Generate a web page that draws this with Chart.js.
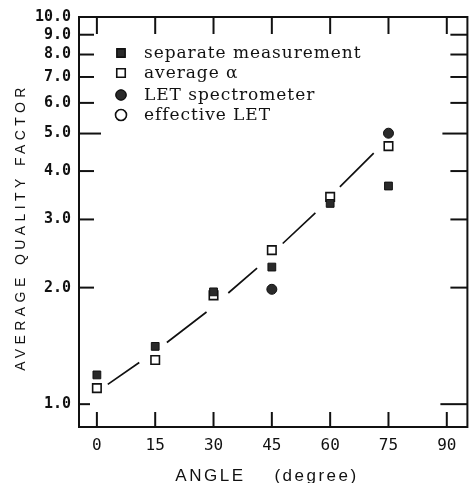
<!DOCTYPE html>
<html><head><meta charset="utf-8">
<script src="https://cdn.jsdelivr.net/npm/chart.js@4/dist/chart.umd.min.js"></script>
<style>html,body{margin:0;padding:0;background:#fff}#wrap{width:475px;height:483px;position:relative}</style>
</head><body><div id="wrap"><canvas id="c" width="475" height="483"></canvas></div>
<script>
// ---- data ----
const angles = [0, 15, 30, 45, 60, 75];
const separateMeasurement = [1.19, 1.41, 1.95, 2.26, 3.30, 3.66];
const averageAlpha = [1.10, 1.30, 1.91, 2.50, 3.43, 4.64];
const letAngles = [45, 75];
const letSpectrometer = [1.98, 5.01];
const effectiveAngles = [];
const effectiveLET = [];
// dashed guide curve (broken at each measured angle)
const fitAngles = [2.8, 10.9, 13, 18, 28.2, 31, 33.8, 41.2, 45, 47.8, 56.2, 60, 62.5, 71.2];
const fitValues = [1.125, 1.281, null, 1.443, 1.73, null, 1.937, 2.245, null, 2.60, 3.12, null, 3.64, 4.45];
const xTicks = [0, 15, 30, 45, 60, 75, 90];
const yTicks = [1, 2, 3, 4, 5, 6, 7, 8, 9, 10];
const seriesNames = ['separate measurement', 'average α', 'LET spectrometer', 'effective LET'];
const xTitle = 'ANGLE    (degree)';
const yTitle = 'AVERAGE QUALITY FACTOR';

const pts = (xs, ys) => xs.map((x, i) => ({x: x, y: ys[i]}));

const datasets = [
  {label: seriesNames[0], type: 'scatter', data: pts(angles, separateMeasurement),
   pointStyle: 'rect', pointRadius: 5.5, backgroundColor: '#2a2a2a', borderColor: '#111', borderWidth: 1},
  {label: seriesNames[1], type: 'scatter', data: pts(angles, averageAlpha),
   pointStyle: 'rect', pointRadius: 6, backgroundColor: '#fff', borderColor: '#111', borderWidth: 1.6},
  {label: seriesNames[2], type: 'scatter', data: pts(letAngles, letSpectrometer),
   pointStyle: 'circle', pointRadius: 5, backgroundColor: '#2a2a2a', borderColor: '#111', borderWidth: 1},
  {label: seriesNames[3], type: 'scatter', data: pts(effectiveAngles, effectiveLET),
   pointStyle: 'circle', pointRadius: 5.5, backgroundColor: '#fff', borderColor: '#111', borderWidth: 1.6},
  {label: 'curve', type: 'line', data: pts(fitAngles, fitValues), spanGaps: false,
   borderColor: '#111', borderWidth: 1.7, pointRadius: 0, fill: false, tension: 0}
];

const decor = {
  id: 'decor',
  afterDraw(chart) {
    const {ctx, chartArea: a, scales: {x, y}} = chart;
    ctx.save();
    ctx.strokeStyle = '#111';
    ctx.lineWidth = 2;
    const line = (x1, y1, x2, y2) => { ctx.beginPath(); ctx.moveTo(x1, y1); ctx.lineTo(x2, y2); ctx.stroke(); };
    ctx.strokeRect(a.left, a.top, a.right - a.left, a.bottom - a.top);
    x.ticks.forEach(t => {
      const px = x.getPixelForValue(t.value);
      line(px, a.bottom, px, a.bottom - 15);
      line(px, a.top, px, a.top + 17);
    });
    y.ticks.forEach(t => {
      const py = y.getPixelForValue(t.value);
      const long = t.value === 5;
      const lenL = long ? 22 : (t.value === 1 ? 11 : 15);
      const lenR = long ? 25 : (t.value === 1 ? 27 : 17);
      line(a.left, py, a.left + lenL, py);
      line(a.right, py, a.right - lenR, py);
    });
    // legend
    const lx = 121, ly0 = 53, rowH = [0, 20, 42, 62];
    ctx.font = '17px "DejaVu Serif"';
    ctx.fillStyle = '#111';
    ctx.textBaseline = 'middle';
    ctx.textAlign = 'left';
    try { ctx.letterSpacing = '0.95px'; } catch (e) {}
    for (let i = 0; i < 4; i++) {
      const ds = chart.data.datasets[i];
      const cy = ly0 + rowH[i];
      Chart.helpers.drawPoint(ctx, {
        pointStyle: ds.pointStyle, radius: ds.pointRadius, borderWidth: ds.borderWidth, rotation: 0
      }, lx, cy);
      ctx.fillStyle = ds.backgroundColor; ctx.strokeStyle = ds.borderColor; ctx.lineWidth = ds.borderWidth;
      ctx.fill(); ctx.stroke();
      ctx.fillStyle = '#111';
      ctx.fillText(ds.label, 144, cy + 1);
    }
    // axis titles
    ctx.fillStyle = '#111';
    ctx.textAlign = 'center';
    ctx.textBaseline = 'alphabetic';
    ctx.font = '17px "Liberation Sans"';
    try { ctx.letterSpacing = '2.5px'; } catch (e) {}
    ctx.fillText(xTitle, 267, 481);
    ctx.save();
    ctx.translate(25, 227);
    ctx.rotate(-Math.PI / 2);
    ctx.font = '14px "Liberation Sans"';
    try { ctx.letterSpacing = '4.4px'; } catch (e) {}
    ctx.fillText(yTitle, 0, 0);
    ctx.restore();
    ctx.restore();
  }
};

new Chart(document.getElementById('c'), {
  type: 'scatter',
  data: {datasets: datasets},
  options: {
    responsive: false,
    animation: false,
    devicePixelRatio: 1,
    layout: {padding: {left: 0, right: 4, top: 15, bottom: 0}},
    plugins: {legend: {display: false}, tooltip: {enabled: false}},
    scales: {
      x: {
        type: 'linear', min: -4.6, max: 95.3,
        afterBuildTicks: s => { s.ticks = xTicks.map(v => ({value: v})); },
        afterFit: s => { s.height = 56; },
        grid: {display: false, drawTicks: false},
        border: {display: false},
        ticks: {color: '#111', padding: 9, maxRotation: 0, autoSkip: false,
          font: {family: '"DejaVu Sans Mono"', size: 16},
          callback: v => String(v)}
      },
      y: {
        type: 'logarithmic', min: 0.873, max: 10,
        afterBuildTicks: s => { s.ticks = yTicks.map(v => ({value: v})); },
        afterFit: s => { s.width = 79; },
        grid: {display: false, drawTicks: false},
        border: {display: false},
        ticks: {color: '#111', padding: 8, autoSkip: false,
          font: {family: '"DejaVu Sans Mono"', size: 15, weight: 'bold'},
          callback: v => Number(v).toFixed(1)}
      }
    }
  },
  plugins: [decor]
});
</script></body></html>
